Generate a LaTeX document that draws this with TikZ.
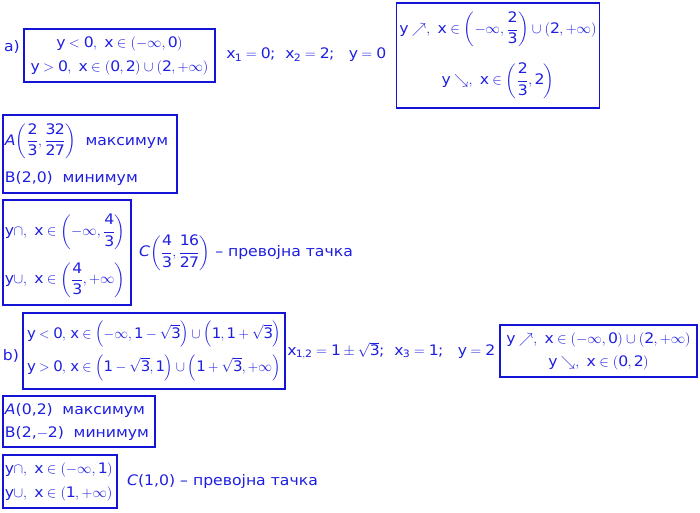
\documentclass[tikz,border=0pt]{standalone}
\usepackage{amsmath,amssymb}
\usepackage{fontspec}
\setmainfont[FakeStretch=1.08]{DejaVu Sans}
\setsansfont[FakeStretch=1.08]{DejaVu Sans}
\usepackage{tikz}
\definecolor{ink}{RGB}{30,30,225}
\definecolor{frame}{RGB}{20,20,215}
\newcommand{\m}[1]{$\mathrm{#1}$}
\newcommand{\fr}[2]{\dfrac{\strut#1}{\strut#2}}

\begin{document}
\begin{tikzpicture}[x=1pt,y=-1pt,
  every node/.style={text=ink,font=\fontsize{14.5}{17}\selectfont,inner sep=2pt},
  box/.style={draw=frame,line width=1.1pt,inner sep=3pt},
  lbox/.style={box,align=left,inner sep=2pt},
  cbox/.style={box,align=center}]
\useasboundingbox (0,0) rectangle (700,512);
% part a)
\node (lblA) at (12,47) {a)};
\node[cbox,minimum width=191pt,minimum height=53pt] (signA) at (119.5,55.5)
  {\m{y<0,\ x\in(-\infty,0)}\\[7pt]
   \m{y>0,\ x\in(0,2)\cup(2,+\infty)}};
\node (rootsA) at (306,55) {\m{x_1=0};\ \ \m{x_2=2};\quad \m{y=0}};
\node[cbox,minimum width=202pt,minimum height=105pt] (monoA) at (498,55.5)
  {\m{y\nearrow,\ x\in\left(-\infty,\fr{2}{3}\right)\cup(2,+\infty)}\\[12pt]
   \m{y\searrow,\ x\in\left(\fr{2}{3},2\right)}};
\node[lbox,minimum height=78pt,text width=170pt] (extrA) at (90,154)
  {\mbox{\textit{A}\m{\left(\fr{2}{3},\fr{32}{27}\right)}\ \ максимум}\\[10pt]
   B(2,0)\ \ минимум};
\node[lbox,minimum height=105pt,text width=124pt] (convA) at (67,252.5)
  {\rule{0pt}{30pt}\m{y{\cap},\ x\in\left(-\infty,\fr{4}{3}\right)}\\[9pt]
   \m{y{\cup},\ x\in\left(\fr{4}{3},+\infty\right)}};
\node[anchor=west] (inflA) at (137,253)
  {\textit{C}\m{\left(\fr{4}{3},\fr{16}{27}\right)} -- превојна тачка};
% part b)
\node (lblB) at (11,356) {b)};
\node[lbox,minimum height=76pt,text width=254pt,inner xsep=4pt] (signB) at (154,351)
  {\scalebox{0.955}[1]{\m{y<0,\,x\in\left(-\infty,1-\sqrt{3}\right)\cup\left(1,1+\sqrt{3}\right)}}\\[6pt]
   \scalebox{0.955}[1]{\m{y>0,\,x\in\left(1-\sqrt{3},1\right)\cup\left(1+\sqrt{3},+\infty\right)}}};
\node (rootsB) at (391,351) {\m{x_{1,2}=1\pm\sqrt{3}};\ \ \m{x_3=1};\quad \m{y=2}};
\node[cbox,minimum width=197pt,minimum height=52pt] (monoB) at (598.5,351)
  {\m{y\nearrow,\ x\in(-\infty,0)\cup(2,+\infty)}\\[6pt]
   \m{y\searrow,\ x\in(0,2)}};
\node[lbox,minimum height=51pt,text width=148pt] (extrB) at (79,421.5)
  {\mbox{\textit{A}(0,2)\ \ максимум}\\[6pt]
   \mbox{B(2,$-$2)\ \ минимум}};
\node[lbox,minimum height=53pt,text width=110pt] (convB) at (60,481.5)
  {\m{y{\cap},\ x\in(-\infty,1)}\\[7pt]
   \m{y{\cup},\ x\in(1,+\infty)}};
\node[anchor=west] (inflB) at (125,481) {\textit{C}(1,0) -- превојна тачка};
\end{tikzpicture}
\end{document}
